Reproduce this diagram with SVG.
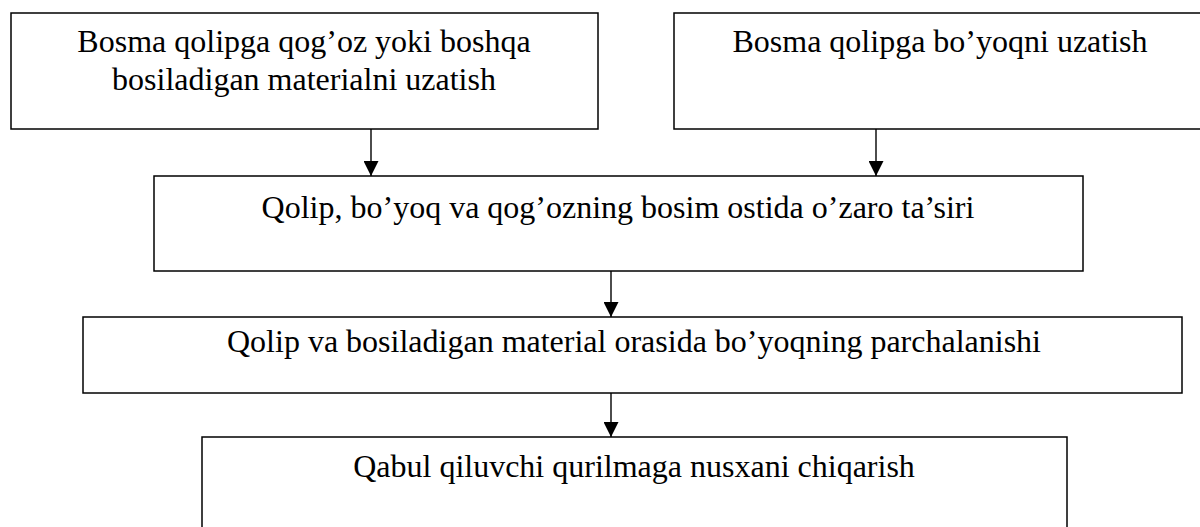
<svg xmlns="http://www.w3.org/2000/svg" width="1200" height="527" viewBox="0 0 1200 527">
<style>
.box{fill:#fff;stroke:#000;stroke-width:1.5}
.t{font-family:"Liberation Serif","Times New Roman",serif;font-size:32px;fill:#000;text-anchor:middle}
.c{stroke:#000;stroke-width:1.4;fill:none;marker-end:url(#ah)}
</style>
<defs>
<marker id="ah" markerUnits="userSpaceOnUse" markerWidth="15" markerHeight="15" refX="15" refY="7.5" orient="auto">
<path d="M0,0 L15,7.5 L0,15 z" fill="#000"/>
</marker>
</defs>
<rect width="1200" height="527" fill="#fff"/>
<g id="n1">
<rect class="box" x="11" y="13" width="587" height="116"/>
<text class="t" x="304" y="52">Bosma qolipga qog’oz yoki boshqa</text>
<text class="t" x="304" y="90">bosiladigan materialni uzatish</text>
</g>
<g id="n2">
<rect class="box" x="674" y="13" width="533" height="116"/>
<text class="t" x="940" y="52">Bosma qolipga bo’yoqni uzatish</text>
</g>
<g id="n3">
<rect class="box" x="154" y="176" width="929" height="95"/>
<text class="t" x="618" y="218">Qolip, bo’yoq va qog’ozning bosim ostida o’zaro ta’siri</text>
</g>
<g id="n4">
<rect class="box" x="83" y="317" width="1099" height="76"/>
<text class="t" x="634" y="352">Qolip va bosiladigan material orasida bo’yoqning parchalanishi</text>
</g>
<g id="n5">
<rect class="box" x="202" y="437" width="865" height="95"/>
<text class="t" x="634" y="477">Qabul qiluvchi qurilmaga nusxani chiqarish</text>
</g>
<g id="connectors">
<line class="c" x1="371" y1="129" x2="371" y2="176"/>
<line class="c" x1="876" y1="129" x2="876" y2="176"/>
<line class="c" x1="611" y1="271" x2="611" y2="317"/>
<line class="c" x1="611" y1="393" x2="611" y2="437"/>
</g>
</svg>
